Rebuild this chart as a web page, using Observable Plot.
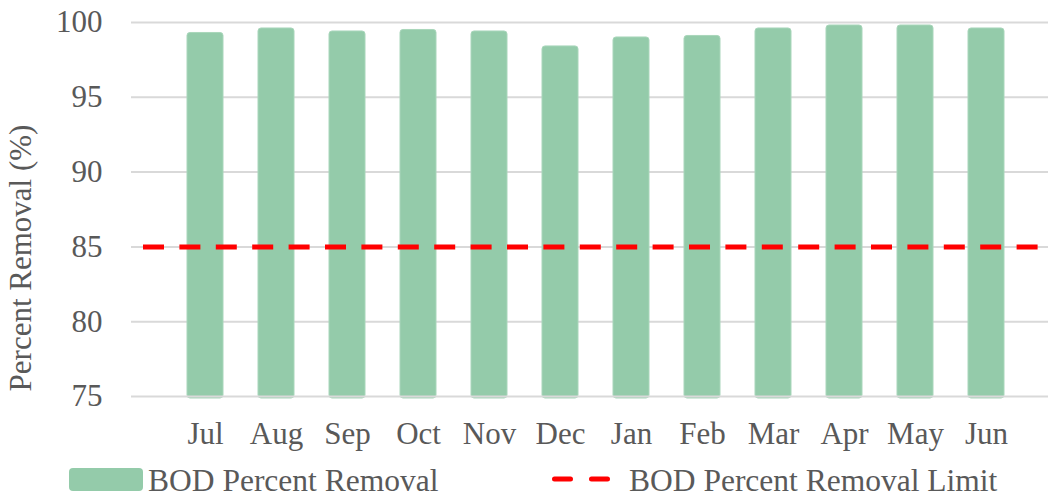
<!DOCTYPE html>
<html>
<head>
<meta charset="utf-8">
<script src="https://cdn.jsdelivr.net/npm/d3@7"></script>
<script src="https://cdn.jsdelivr.net/npm/@observablehq/plot@0.6"></script>
<style>
  html, body { margin: 0; padding: 0; background: #fff; }
  #chart { width: 1049px; }
  svg { display: block; }
</style>
</head>
<body>
<div id="chart"></div>
<script>
const months = ["Jul","Aug","Sep","Oct","Nov","Dec","Jan","Feb","Mar","Apr","May","Jun"];
const removal = [99.3, 99.6, 99.4, 99.5, 99.4, 98.4, 99.0, 99.1, 99.6, 99.8, 99.8, 99.6];
const limit = 85;
const yTicks = [75, 80, 85, 90, 95, 100];
const seriesNames = ["BOD Percent Removal", "BOD Percent Removal Limit"];
const yTitle = "Percent Removal (%)";

const data = months.map((m, i) => ({month: m, value: removal[i]}));

const FONT = "'Liberation Serif', 'Times New Roman', serif";
const TXT = "#595959";
const GREEN = "#94cbaa";
const GRID = "#d9d9d9";
const yMin = yTicks[0];

const plot = Plot.plot({
  width: 1049,
  height: 458,
  marginTop: 22,
  marginBottom: 62,
  marginLeft: 131,
  marginRight: 1,
  style: {fontFamily: FONT, fontSize: "31px", color: TXT, background: "#fff"},
  x: {type: "band", domain: months, range: [166.2, 1024.8], paddingInner: 0.5, paddingOuter: 0.25},
  y: {domain: [yTicks[0], yTicks[yTicks.length - 1]]},
  marks: [
    Plot.ruleY(yTicks.slice(1), {stroke: GRID, strokeWidth: 2}),
    Plot.barY(data, {x: "month", y1: () => yMin, y2: "value", fill: GREEN, stroke: "#a9d6bb", strokeWidth: 1, rx: 3, insetBottom: -2}),
    Plot.ruleY([yMin], {stroke: GRID, strokeWidth: 2}),
    Plot.ruleY([limit], {stroke: "#ff0000", strokeWidth: 5, strokeDasharray: "21,15.4", insetLeft: 12}),
    Plot.axisY({ticks: yTicks, tickSize: 0, tickPadding: 29, label: null, fill: TXT, fontSize: 31}),
    Plot.axisX({tickSize: 0, tickPadding: 25, label: null, fill: TXT, fontSize: 31})
  ]
});
document.getElementById("chart").appendChild(plot);

// Y-axis title
d3.select(plot).append("text")
  .attr("transform", "translate(24,258) rotate(-90)")
  .attr("text-anchor", "middle")
  .attr("dominant-baseline", "middle")
  .attr("fill", TXT)
  .style("font-family", FONT)
  .style("font-size", "31px")
  .text(yTitle);

// Legend below the plot
const leg = d3.create("svg").attr("width", 1049).attr("height", 39)
  .style("font-family", FONT).style("font-size", "31.5px");
leg.append("rect").attr("x", 69).attr("y", 10).attr("width", 74).attr("height", 23)
  .attr("rx", 4).attr("fill", GREEN);
leg.append("text").attr("x", 148).attr("y", 33).attr("fill", TXT).text(seriesNames[0]);
leg.append("line").attr("x1", 554.5).attr("x2", 608.5).attr("y1", 21).attr("y2", 21)
  .attr("stroke", "#ff0000").attr("stroke-width", 5).attr("stroke-linecap", "round")
  .attr("stroke-dasharray", "16,21");
leg.append("text").attr("x", 629).attr("y", 33).attr("fill", TXT).text(seriesNames[1]);
document.getElementById("chart").appendChild(leg.node());
</script>
</body>
</html>
